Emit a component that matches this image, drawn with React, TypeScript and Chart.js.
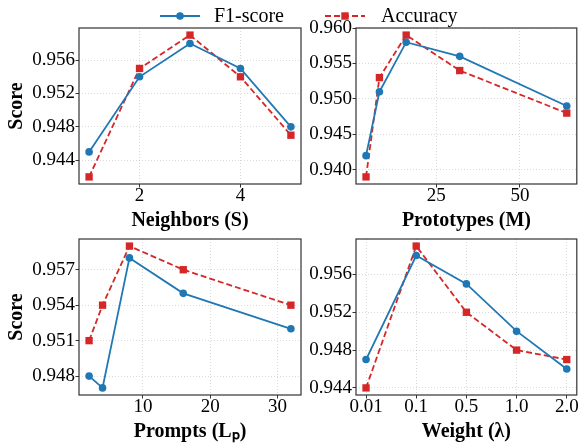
import React, { useEffect, useRef } from 'react';
import { Chart, registerables } from 'chart.js';

Chart.register(...registerables);

const W = 582;
const H = 445;
const BLUE = '#1f77b4';
const RED = '#d62728';
const SERIF = '"Liberation Serif", "Times New Roman", serif';

// ---- data ----
const neighbors = [1, 2, 3, 4, 5];
const f1Neighbors = [0.945, 0.954, 0.958, 0.955, 0.948];
const accNeighbors = [0.942, 0.955, 0.959, 0.954, 0.947];

const prototypes = [4, 8, 16, 32, 64];
const f1Prototypes = [0.942, 0.951, 0.958, 0.956, 0.949];
const accPrototypes = [0.939, 0.953, 0.959, 0.954, 0.948];

const prompts = [2, 4, 8, 16, 32];
const f1Prompts = [0.948, 0.947, 0.958, 0.955, 0.952];
const accPrompts = [0.951, 0.954, 0.959, 0.957, 0.954];

const weightLabels = ['0.01', '0.1', '0.5', '1.0', '2.0'];
const weightIdx = [0, 1, 2, 3, 4];
const f1Weight = [0.947, 0.958, 0.955, 0.95, 0.946];
const accWeight = [0.944, 0.959, 0.952, 0.948, 0.947];

const neighborTicks = [2, 4];
const prototypeTicks = [25, 50];
const promptTicks = [10, 20, 30];
const weightTicks = [0, 1, 2, 3, 4];

const yTicksNeighbors = [0.944, 0.948, 0.952, 0.956];
const yTicksPrototypes = [0.94, 0.945, 0.95, 0.955, 0.96];
const yTicksPrompts = [0.948, 0.951, 0.954, 0.957];
const yTicksWeight = [0.944, 0.948, 0.952, 0.956];

const seriesNames = ['F1-score', 'Accuracy'];

type Area = { left: number; top: number; right: number; bottom: number };
type Spec = {
  xs: number[];
  f1: number[];
  acc: number[];
  xMin: number;
  xMax: number;
  yMin: number;
  yMax: number;
  xTicks: number[];
  yTicks: number[];
  xLabel: string;
  yLabel?: string;
  xFmt: (v: number) => string;
  area: Area;
};

const panels: Spec[] = [
  {
    xs: neighbors, f1: f1Neighbors, acc: accNeighbors,
    xMin: 0.8, xMax: 5.2, yMin: 0.94115, yMax: 0.95985,
    xTicks: neighborTicks, yTicks: yTicksNeighbors,
    xLabel: 'Neighbors (S)', yLabel: 'Score', xFmt: (v) => String(v),
    area: { left: 79, top: 28, right: 301, bottom: 184 },
  },
  {
    xs: prototypes, f1: f1Prototypes, acc: accPrototypes,
    xMin: 1, xMax: 67, yMin: 0.938, yMax: 0.96,
    xTicks: prototypeTicks, yTicks: yTicksPrototypes,
    xLabel: 'Prototypes (M)', xFmt: (v) => String(v),
    area: { left: 356, top: 28, right: 578, bottom: 184 },
  },
  {
    xs: prompts, f1: f1Prompts, acc: accPrompts,
    xMin: 0.5, xMax: 33.5, yMin: 0.9464, yMax: 0.9596,
    xTicks: promptTicks, yTicks: yTicksPrompts,
    xLabel: 'Prompts (L\u209A)', yLabel: 'Score', xFmt: (v) => String(v),
    area: { left: 79, top: 239, right: 301, bottom: 395 },
  },
  {
    xs: weightIdx, f1: f1Weight, acc: accWeight,
    xMin: -0.2, xMax: 4.2, yMin: 0.94325, yMax: 0.95975,
    xTicks: weightTicks, yTicks: yTicksWeight,
    xLabel: 'Weight (\u03BB)', xFmt: (v) => weightLabels[v] ?? '',
    area: { left: 356, top: 239, right: 578, bottom: 395 },
  },
];

const framePlugin = {
  id: 'frame',
  afterDraw(chart: any) {
    const { ctx, chartArea: a } = chart;
    ctx.save();
    ctx.strokeStyle = '#333333';
    ctx.lineWidth = 1.2;
    ctx.strokeRect(a.left, a.top, a.right - a.left, a.bottom - a.top);
    ctx.restore();
  },
};

function Panel({ spec }: { spec: Spec }) {
  const ref = useRef<HTMLCanvasElement | null>(null);
  useEffect(() => {
    if (!ref.current) return;
    const a = spec.area;
    const WY = spec.yLabel ? a.left : 60;
    const PL = a.left - WY;
    const HX = 50;
    const PB = H - a.bottom - HX;
    const tickFont = { family: SERIF, size: 19, lineHeight: 0.8 };
    const gridCommon = {
      color: 'rgba(170,170,170,0.55)',
      lineWidth: 0.8,
      tickLength: 3.5,
      tickColor: '#333333',
      tickWidth: 1,
      tickBorderDash: [],
    };
    const chart = new Chart(ref.current, {
      type: 'line',
      data: {
        datasets: [
          {
            label: seriesNames[0],
            data: spec.xs.map((x, i) => ({ x, y: spec.f1[i] })),
            borderColor: BLUE,
            backgroundColor: BLUE,
            borderWidth: 1.8,
            pointStyle: 'circle',
            pointRadius: 3.8,
            pointBorderWidth: 0,
            pointBackgroundColor: BLUE,
            tension: 0,
            clip: false,
          },
          {
            label: seriesNames[1],
            data: spec.xs.map((x, i) => ({ x, y: spec.acc[i] })),
            borderColor: RED,
            backgroundColor: RED,
            borderWidth: 1.8,
            borderDash: [6, 3],
            pointStyle: 'rect',
            pointRadius: 5.2,
            pointBorderWidth: 0,
            pointBackgroundColor: RED,
            tension: 0,
            clip: false,
          },
        ],
      },
      options: {
        responsive: false,
        animation: false,
        devicePixelRatio: 1,
        layout: { padding: { left: PL, top: a.top, right: W - a.right, bottom: PB } },
        plugins: { legend: { display: false }, tooltip: { enabled: false } },
        scales: {
          x: {
            type: 'linear',
            bounds: 'data',
            min: spec.xMin,
            max: spec.xMax,
            afterBuildTicks: (s: any) => {
              s.ticks = spec.xTicks.map((v) => ({ value: v }));
            },
            afterFit: (s: any) => {
              s.height = HX;
              s.paddingLeft = 0; s.paddingRight = 0; s.paddingTop = 0; s.paddingBottom = 0;
            },
            ticks: {
              font: tickFont, color: '#000', padding: 0.5, autoSkip: false, maxRotation: 0,
              callback: (v: any) => spec.xFmt(Number(v)),
            },
            grid: gridCommon,
            border: { display: false, dash: [1, 2] },
            title: {
              display: true, text: spec.xLabel, color: '#000',
              font: { family: SERIF, size: 20, weight: 'bold', lineHeight: 1.2 },
              padding: { top: 0, bottom: 1 },
            },
          },
          y: {
            type: 'linear',
            bounds: 'data',
            min: spec.yMin,
            max: spec.yMax,
            afterBuildTicks: (s: any) => {
              s.ticks = spec.yTicks.map((v) => ({ value: v }));
            },
            afterFit: (s: any) => {
              s.width = WY;
              s.paddingLeft = 0; s.paddingRight = 0; s.paddingTop = 0; s.paddingBottom = 0;
            },
            ticks: {
              font: tickFont, color: '#000', padding: 0.5, autoSkip: false,
              callback: (v: any) => Number(v).toFixed(3),
            },
            grid: gridCommon,
            border: { display: false, dash: [1, 2] },
            title: {
              display: !!spec.yLabel, text: spec.yLabel || '', color: '#000',
              font: { family: SERIF, size: 20, weight: 'bold', lineHeight: 1.2 },
              padding: { top: 5, bottom: 0 },
            },
          },
        },
      },
      plugins: [framePlugin],
    } as any);
    return () => chart.destroy();
  }, [spec]);
  return (
    <canvas
      ref={ref}
      width={W}
      height={H}
      style={{ position: 'absolute', left: 0, top: 0, width: W, height: H }}
    />
  );
}

function Legend() {
  const textStyle: React.CSSProperties = {
    position: 'absolute',
    top: 5,
    fontFamily: SERIF,
    fontSize: 20,
    lineHeight: '20px',
    color: '#000',
    whiteSpace: 'nowrap',
  };
  return (
    <>
      <svg style={{ position: 'absolute', left: 158, top: 8 }} width={44} height={16}>
        <line x1={2} y1={8} x2={42} y2={8} stroke={BLUE} strokeWidth={1.8} />
        <circle cx={22} cy={8} r={3.8} fill={BLUE} />
      </svg>
      <div style={{ ...textStyle, left: 214 }}>{seriesNames[0]}</div>
      <svg style={{ position: 'absolute', left: 323, top: 8 }} width={44} height={16}>
        <line x1={2} y1={8} x2={42} y2={8} stroke={RED} strokeWidth={1.8} strokeDasharray="6 3" />
        <rect x={22 - 3.7} y={8 - 3.7} width={7.4} height={7.4} fill={RED} />
      </svg>
      <div style={{ ...textStyle, left: 381 }}>{seriesNames[1]}</div>
    </>
  );
}

export default function App() {
  return (
    <div
      style={{
        position: 'fixed', left: 0, top: 0, width: W, height: H,
        overflow: 'hidden', background: '#fff',
      }}
    >
      {panels.map((p, i) => (
        <Panel key={i} spec={p} />
      ))}
      <Legend />
    </div>
  );
}
